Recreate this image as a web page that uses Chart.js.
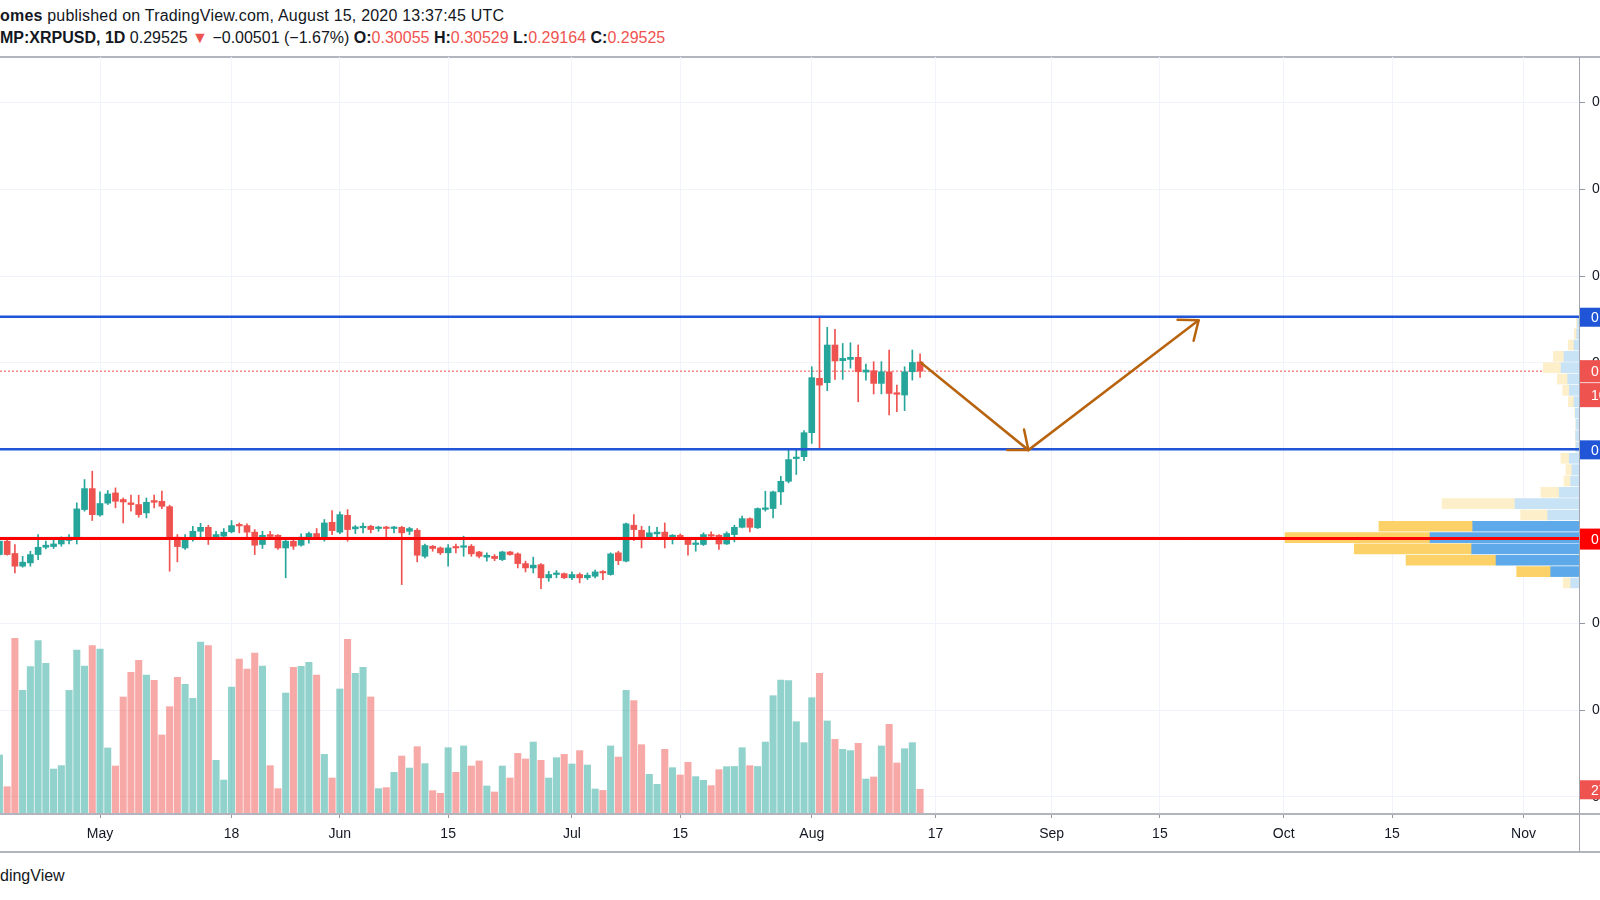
<!DOCTYPE html>
<html>
<head>
<meta charset="utf-8">
<title>XRPUSD 1D</title>
<script src="https://cdn.jsdelivr.net/npm/chart.js@4.4.1/dist/chart.umd.min.js"></script>
<style>
body { margin: 0; background: #fff; font-family: "Liberation Sans", Arial, sans-serif; color: #131722; }
#page { position: relative; width: 1600px; height: 900px; overflow: hidden; background: #fff; }
.hdr { position: absolute; left: 0; white-space: nowrap; font-size: 16px; line-height: 20px; }
#h1 { top: 6px; letter-spacing: 0.2px; }
#h2 { top: 28px; }
.red { color: #ef5350; }
.frame { position: absolute; background: #b2b5be; }
#chart { position: absolute; left: 0; top: 57px; }
#foot { position: absolute; left: 0; top: 866px; font-size: 16px; line-height: 20px; }
</style>
</head>
<body>
<div id="page">
	<div class="hdr" id="h1"><b>omes</b> published on TradingView.com, August 15, 2020 13:37:45 UTC</div>
	<div class="hdr" id="h2"></div>
	<div class="frame" style="left:0;top:56px;width:1600px;height:2px"></div>
	<canvas id="chart" width="1600" height="795"></canvas>
	<div class="frame" style="left:0;top:813px;width:1600px;height:2px"></div>
	<div class="frame" style="left:0;top:851px;width:1600px;height:2px"></div>
	<div class="frame" style="left:1579px;top:57px;width:1px;height:795px;background:#a3a6af"></div>
	<div id="foot">dingView</div>
</div>
<script>
// daily candles, BITSTAMP:XRPUSD, 2020-04-18 .. 2020-08-15
var startDate = '2020-04-18';

var open = [
	0.1896, 0.1973, 0.1902, 0.1829, 0.1848, 0.1896, 0.1938, 0.1942, 0.1957, 0.1977,
	0.1996, 0.2155, 0.2276, 0.2124, 0.2192, 0.2251, 0.2213, 0.2194, 0.2184, 0.2136,
	0.2207, 0.2203, 0.2172, 0.1996, 0.1934, 0.1982, 0.2030, 0.2053, 0.1992, 0.2002,
	0.2027, 0.2069, 0.2063, 0.2025, 0.1954, 0.2011, 0.2007, 0.1934, 0.1973, 0.1950,
	0.1992, 0.2017, 0.1986, 0.2082, 0.2025, 0.2122, 0.2044, 0.2050, 0.2059, 0.2046,
	0.2053, 0.2046, 0.2053, 0.2030, 0.2036, 0.1886, 0.1944, 0.1934, 0.1906, 0.1938,
	0.1938, 0.1944, 0.1911, 0.1881, 0.1886, 0.1867, 0.1911, 0.1900, 0.1844, 0.1819,
	0.1838, 0.1762, 0.1781, 0.1786, 0.1762, 0.1781, 0.1762, 0.1771, 0.1796, 0.1781,
	0.1906, 0.1858, 0.2065, 0.2036, 0.1996, 0.2015, 0.2025, 0.1999, 0.2007, 0.1982,
	0.1954, 0.1954, 0.2011, 0.2007, 0.1957, 0.2011, 0.2053, 0.2103, 0.2050, 0.2156,
	0.2161, 0.2257, 0.2318, 0.2449, 0.2460, 0.2598, 0.2911, 0.2886, 0.3103, 0.3013,
	0.3020, 0.3032, 0.2947, 0.2955, 0.2882, 0.2949, 0.2828, 0.2815, 0.2949, 0.30055
];
var high = [
	0.1982, 0.1982, 0.1954, 0.1886, 0.1915, 0.2011, 0.1973, 0.1980, 0.1998, 0.2011,
	0.2194, 0.2328, 0.2376, 0.2257, 0.2265, 0.2280, 0.2222, 0.2238, 0.2238, 0.2222,
	0.2238, 0.2261, 0.2180, 0.2011, 0.2011, 0.2059, 0.2076, 0.2065, 0.2030, 0.2046,
	0.2092, 0.2078, 0.2073, 0.2040, 0.2030, 0.2030, 0.2011, 0.1979, 0.1982, 0.2015,
	0.2025, 0.2046, 0.2098, 0.2149, 0.2142, 0.2155, 0.2063, 0.2078, 0.2065, 0.2059,
	0.2059, 0.2059, 0.2059, 0.2053, 0.2046, 0.1957, 0.1948, 0.1940, 0.1954, 0.1957,
	0.2002, 0.1954, 0.1915, 0.1906, 0.1896, 0.1915, 0.1915, 0.1906, 0.1858, 0.1881,
	0.1844, 0.1800, 0.1804, 0.1790, 0.1796, 0.1790, 0.1790, 0.1806, 0.1804, 0.1906,
	0.1915, 0.2078, 0.2126, 0.2059, 0.2059, 0.2053, 0.2078, 0.2011, 0.2015, 0.1992,
	0.1986, 0.2021, 0.2027, 0.2011, 0.2027, 0.2065, 0.2117, 0.2107, 0.2165, 0.2261,
	0.2261, 0.2347, 0.2501, 0.2498, 0.2610, 0.2978, 0.3266, 0.3205, 0.3193, 0.3112,
	0.3116, 0.3103, 0.2993, 0.3007, 0.3007, 0.3074, 0.2872, 0.2978, 0.3074, 0.30529
];
var low = [
	0.1886, 0.1892, 0.1790, 0.1823, 0.1829, 0.1867, 0.1929, 0.1931, 0.1944, 0.1957,
	0.1957, 0.2146, 0.2092, 0.2117, 0.2184, 0.2165, 0.2078, 0.2146, 0.2111, 0.2107,
	0.2165, 0.2161, 0.1800, 0.1854, 0.1925, 0.1973, 0.1992, 0.1954, 0.1982, 0.1992,
	0.2021, 0.2021, 0.1992, 0.1896, 0.1931, 0.1982, 0.1925, 0.1762, 0.1925, 0.1944,
	0.1961, 0.1982, 0.1973, 0.2011, 0.2017, 0.1973, 0.2017, 0.2021, 0.2021, 0.2030,
	0.1992, 0.2021, 0.1723, 0.2011, 0.1854, 0.1877, 0.1915, 0.1896, 0.1829, 0.1906,
	0.1886, 0.1886, 0.1877, 0.1858, 0.1861, 0.1861, 0.1892, 0.1819, 0.1796, 0.1790,
	0.1700, 0.1742, 0.1762, 0.1758, 0.1752, 0.1733, 0.1752, 0.1762, 0.1752, 0.1777,
	0.1838, 0.1854, 0.1977, 0.1934, 0.1988, 0.1992, 0.1934, 0.1957, 0.1992, 0.1892,
	0.1915, 0.1948, 0.1982, 0.1925, 0.1954, 0.1969, 0.2050, 0.2027, 0.2046, 0.2146,
	0.2107, 0.2184, 0.2309, 0.2357, 0.2437, 0.2536, 0.2502, 0.2840, 0.2905, 0.2905,
	0.2970, 0.2776, 0.2901, 0.2821, 0.2821, 0.2700, 0.2719, 0.2725, 0.2901, 0.29164
];
var close = [
	0.1973, 0.1896, 0.1829, 0.1852, 0.1896, 0.1938, 0.1950, 0.1957, 0.1979, 0.1996,
	0.2159, 0.2276, 0.2126, 0.2190, 0.2245, 0.2203, 0.2199, 0.2184, 0.2126, 0.2197,
	0.2197, 0.2174, 0.1996, 0.1942, 0.1982, 0.2030, 0.2053, 0.1992, 0.2011, 0.2025,
	0.2063, 0.2061, 0.2025, 0.1950, 0.2007, 0.2000, 0.1934, 0.1973, 0.1944, 0.1996,
	0.2017, 0.1992, 0.2078, 0.2034, 0.2126, 0.2040, 0.2055, 0.2059, 0.2040, 0.2053,
	0.2046, 0.2053, 0.2021, 0.2046, 0.1892, 0.1948, 0.1931, 0.1906, 0.1934, 0.1934,
	0.1942, 0.1900, 0.1886, 0.1892, 0.1873, 0.1911, 0.1896, 0.1844, 0.1819, 0.1835,
	0.1762, 0.1781, 0.1790, 0.1762, 0.1781, 0.1762, 0.1777, 0.1796, 0.1790, 0.1900,
	0.1861, 0.2073, 0.2040, 0.1996, 0.2021, 0.2025, 0.1992, 0.2007, 0.1998, 0.1954,
	0.1963, 0.2011, 0.2002, 0.1957, 0.2017, 0.2053, 0.2103, 0.2053, 0.2161, 0.2165,
	0.2257, 0.2318, 0.2443, 0.2457, 0.2598, 0.2915, 0.2872, 0.3103, 0.3011, 0.3026,
	0.3032, 0.2949, 0.2959, 0.2882, 0.2949, 0.2824, 0.2819, 0.2949, 0.30026, 0.29525
];
// volume, millions of XRP
var volume = [
	64.4, 29.8, 191.8, 135.0, 160.9, 189.3, 164.5, 49.1, 52.8, 135.0,
	179.1, 161.6, 183.8, 180.2, 72.1, 52.4, 127.8, 154.7, 167.8, 151.8,
	146.0, 86.3, 117.2, 149.2, 141.6, 126.3, 187.8, 183.8, 58.6, 37.1,
	138.7, 169.3, 158.3, 175.8, 161.6, 52.8, 27.7, 132.1, 160.1, 161.3,
	165.6, 151.8, 65.1, 39.3, 136.5, 190.7, 153.6, 160.1, 127.8, 27.7,
	28.8, 45.5, 63.3, 50.2, 73.5, 55.0, 25.5, 22.6, 72.4, 45.5,
	74.3, 52.4, 57.9, 30.6, 24.0, 52.4, 39.3, 66.2, 60.1, 78.6,
	58.6, 39.3, 61.5, 65.1, 54.6, 69.2, 53.5, 27.3, 25.8, 74.3,
	62.2, 135.0, 123.8, 75.7, 43.3, 32.4, 70.6, 50.6, 42.6, 56.4,
	40.8, 36.8, 31.0, 48.4, 51.7, 51.9, 72.4, 52.8, 51.9, 78.6,
	129.2, 146.3, 145.6, 100.8, 77.9, 127.0, 153.6, 101.6, 81.5, 70.6,
	69.2, 77.2, 38.2, 40.4, 74.3, 97.9, 55.7, 71.3, 77.9, 27.0
];

// visible range volume profile (24 rows), millions
var vpRowPrices = [
	0.17326, 0.17979, 0.18631, 0.19284, 0.19936, 0.20589, 0.21241, 0.21894,
	0.22546, 0.23199, 0.23851, 0.24504, 0.25156, 0.25809, 0.26461, 0.27114,
	0.27766, 0.28419, 0.29071, 0.29724, 0.30376, 0.31029, 0.31681, 0.32334
];
var vpUp = [65, 221, 647, 837, 1162, 829, 244, 499, 154, 65, 55, 76, 23, 26, 23, 29, 39, 76, 88, 140, 117, 39, 18, 12];
var vpDown = [58, 265, 702, 916, 1131, 731, 211, 569, 143, 52, 47, 65, 4, 2, 2, 4, 44, 51, 81, 138, 83, 44, 19, 8];
var vpValueArea = [1, 2, 3, 4, 5];

// drawings
var resistance = 0.3266;
var support = 0.2502;
var redLevel = 0.1988;
var arrowDates = ['2020-08-15', '2020-08-29', '2020-09-20'];
var arrowPrices = [0.3005, 0.2498, 0.3245];
var countdown = '10:22:15';

// axes
var timeTickDates = ['2020-05-01', '2020-05-18', '2020-06-01', '2020-06-15', '2020-07-01', '2020-07-15', '2020-08-01', '2020-08-17', '2020-09-01', '2020-09-15', '2020-10-01', '2020-10-15', '2020-11-01'];
var timeTickLabels = ['May', '18', 'Jun', '15', 'Jul', '15', 'Aug', '17', 'Sep', '15', 'Oct', '15', 'Nov'];
var priceTicks = [0.05, 0.10, 0.15, 0.20, 0.25, 0.30, 0.35, 0.40, 0.45];
var xRange = [0.074, 204.17];
var priceRange = [0.04015, 0.47621];
var volumeMax = 826.6;
var vpMax = 12316;

var upColor = '#26a69a', downColor = '#ef5350';
var lineBlue = '#1f55d6', arrowColor = '#b8640f';

var dayOf = function(s) {
	return (Date.parse(s) - Date.parse(startDate)) / 864e5;
};
var last = close.length - 1;
var isUp = function(i) { return close[i] >= open[i]; };
var idx = close.map(function(c, i) { return i; });

// header from the last candle
(function() {
	var chg = close[last] - close[last - 1];
	var pct = chg / close[last - 1] * 100;
	var m = function(v) { return (v < 0 ? '\u2212' : '') + Math.abs(v).toFixed(5); };
	document.getElementById('h2').innerHTML =
		'<b>MP:XRPUSD, 1D</b> ' + close[last].toFixed(5) + ' <span class="red">\u25BC</span> ' +
		m(chg) + ' (' + (pct < 0 ? '\u2212' : '') + Math.abs(pct).toFixed(2) + '%) ' +
		'<b>O:</b><span class="red">' + open[last].toFixed(5) + '</span> ' +
		'<b>H:</b><span class="red">' + high[last].toFixed(5) + '</span> ' +
		'<b>L:</b><span class="red">' + low[last].toFixed(5) + '</span> ' +
		'<b>C:</b><span class="red">' + close[last].toFixed(5) + '</span>';
})();

var hLine = function(level) {
	return [{x: xRange[0], y: level}, {x: xRange[1], y: level}];
};

var arrowHeads = {
	id: 'arrowHeads',
	afterDatasetsDraw: function(chart) {
		var pts = chart.getDatasetMeta(0).data;
		var c = chart.ctx;
		c.save();
		c.strokeStyle = arrowColor;
		c.lineWidth = 2.5;
		c.lineCap = 'round';
		for (var k = 1; k < pts.length; k++) {
			var a = pts[k - 1], b = pts[k];
			var ang = Math.atan2(b.y - a.y, b.x - a.x);
			[-0.68, 0.68].forEach(function(s) {
				c.beginPath();
				c.moveTo(b.x, b.y);
				c.lineTo(b.x - 21 * Math.cos(ang + s), b.y - 21 * Math.sin(ang + s));
				c.stroke();
			});
		}
		c.restore();
	}
};

var priceTags = {
	id: 'priceTags',
	afterDraw: function(chart) {
		var c = chart.ctx, left = chart.chartArea.right, w = chart.width - left;
		var y = chart.scales.y, v = chart.scales.v;
		var box = function(top, h, color, text) {
			c.fillStyle = color;
			c.fillRect(left, top, w, h);
			c.fillStyle = '#fff';
			c.font = '14px "Liberation Sans", Arial, sans-serif';
			c.textBaseline = 'middle';
			c.textAlign = 'left';
			c.fillText(text, left + 12, top + h / 2 + 1);
		};
		c.save();
		box(y.getPixelForValue(resistance) - 9, 19, lineBlue, resistance.toFixed(5));
		box(y.getPixelForValue(support) - 9, 19, lineBlue, support.toFixed(5));
		box(y.getPixelForValue(redLevel) - 10, 21, '#ff0000', redLevel.toFixed(5));
		var py = y.getPixelForValue(close[last]);
		box(py - 11, 22, downColor, close[last].toFixed(5));
		box(py + 11, 25, downColor, countdown);
		c.fillStyle = 'rgba(255,255,255,0.7)';
		c.fillRect(left, py + 11, w, 1);
		box(v.getPixelForValue(volume[last]) - 9, 19, downColor, volume[last].toFixed(3) + 'M');
		c.restore();
	}
};

Chart.defaults.font.family = '"Liberation Sans", Arial, sans-serif';
Chart.defaults.font.size = 14;
Chart.defaults.color = '#131722';

var vpColor = function(dark, light) {
	return function(ctx) { return vpValueArea.indexOf(ctx.dataIndex) >= 0 ? dark : light; };
};

new Chart(document.getElementById('chart'), {
	type: 'bar',
	data: {
		datasets: [{
			type: 'line',
			label: 'Arrow',
			data: arrowDates.map(function(d, k) { return {x: dayOf(d), y: arrowPrices[k]}; }),
			borderColor: arrowColor,
			borderWidth: 2.5,
			pointRadius: 0,
			tension: 0,
			order: 0
		}, {
			type: 'line',
			label: 'Support 0.20',
			data: hLine(redLevel),
			borderColor: '#ff0000',
			borderWidth: 3,
			pointRadius: 0,
			order: 1
		}, {
			type: 'line',
			label: 'Resistance',
			data: hLine(resistance),
			borderColor: lineBlue,
			borderWidth: 2.5,
			pointRadius: 0,
			order: 1
		}, {
			type: 'line',
			label: 'Support',
			data: hLine(support),
			borderColor: lineBlue,
			borderWidth: 2.5,
			pointRadius: 0,
			order: 1
		}, {
			label: 'VP up',
			indexAxis: 'y',
			xAxisID: 'xvp',
			yAxisID: 'y',
			stack: 'vp',
			data: vpRowPrices.map(function(p, k) { return {x: vpUp[k], y: p}; }),
			backgroundColor: vpColor('#5da9e9', '#c8e2f6'),
			barThickness: 10,
			grouped: false,
			order: 3
		}, {
			label: 'VP down',
			indexAxis: 'y',
			xAxisID: 'xvp',
			yAxisID: 'y',
			stack: 'vp',
			data: vpRowPrices.map(function(p, k) { return {x: vpDown[k], y: p}; }),
			backgroundColor: vpColor('#fcd268', '#fdefc9'),
			barThickness: 10,
			grouped: false,
			order: 3
		}, {
			label: 'Body',
			data: idx.map(function(i) { return {x: i, y: [open[i], close[i]]}; }),
			backgroundColor: function(ctx) { return isUp(ctx.dataIndex) ? upColor : downColor; },
			barThickness: 6,
			minBarLength: 1.5,
			grouped: false,
			order: 4
		}, {
			label: 'Wick',
			data: idx.map(function(i) { return {x: i, y: [low[i], high[i]]}; }),
			backgroundColor: function(ctx) { return isUp(ctx.dataIndex) ? upColor : downColor; },
			barThickness: 1,
			grouped: false,
			order: 5
		}, {
			type: 'line',
			label: 'Last price',
			data: hLine(close[last]),
			borderColor: downColor,
			borderWidth: 1,
			borderDash: [2, 2],
			pointRadius: 0,
			order: 6
		}, {
			label: 'Volume',
			yAxisID: 'v',
			data: idx.map(function(i) { return {x: i, y: volume[i]}; }),
			backgroundColor: function(ctx) { return isUp(ctx.dataIndex) ? 'rgba(38,166,154,0.5)' : 'rgba(239,83,80,0.5)'; },
			barThickness: 6.4,
			grouped: false,
			order: 7
		}]
	},
	options: {
		responsive: false,
		animation: false,
		devicePixelRatio: 1,
		events: [],
		layout: { padding: 0 },
		plugins: { legend: { display: false }, tooltip: { enabled: false } },
		scales: {
			x: {
				type: 'linear',
				min: xRange[0],
				max: xRange[1],
				offset: false,
				bounds: 'data',
				afterBuildTicks: function(s) { s.ticks = timeTickDates.map(function(d) { return {value: dayOf(d)}; }); },
				afterFit: function(s) { s.height = 38; s.paddingLeft = 0; s.paddingRight = 0; },
				ticks: {
					autoSkip: false,
					maxRotation: 0,
					minRotation: 0,
					padding: 8,
					callback: function(v, i) { return timeTickLabels[i]; }
				},
				grid: { color: '#f0f3fa', offset: false, tickLength: 4, tickColor: '#9598a1' },
				border: { display: false }
			},
			y: {
				type: 'linear',
				position: 'right',
				min: priceRange[0],
				max: priceRange[1],
				offset: false,
				bounds: 'data',
				beginAtZero: false,
				afterBuildTicks: function(s) { s.ticks = priceTicks.map(function(p) { return {value: p}; }); },
				afterFit: function(s) { s.width = 21; s.paddingTop = 0; s.paddingBottom = 0; },
				ticks: {
					padding: 7,
					callback: function(v) { return v.toFixed(5); }
				},
				grid: { color: '#f0f3fa', offset: false, tickLength: 6, tickColor: '#9598a1' },
				border: { display: false }
			},
			v: { type: 'linear', axis: 'y', display: false, min: 0, max: volumeMax, offset: false },
			xvp: { type: 'linear', axis: 'x', display: false, reverse: true, min: 0, max: vpMax, stacked: true, offset: false }
		}
	},
	plugins: [arrowHeads, priceTags]
});
</script>
</body>
</html>
